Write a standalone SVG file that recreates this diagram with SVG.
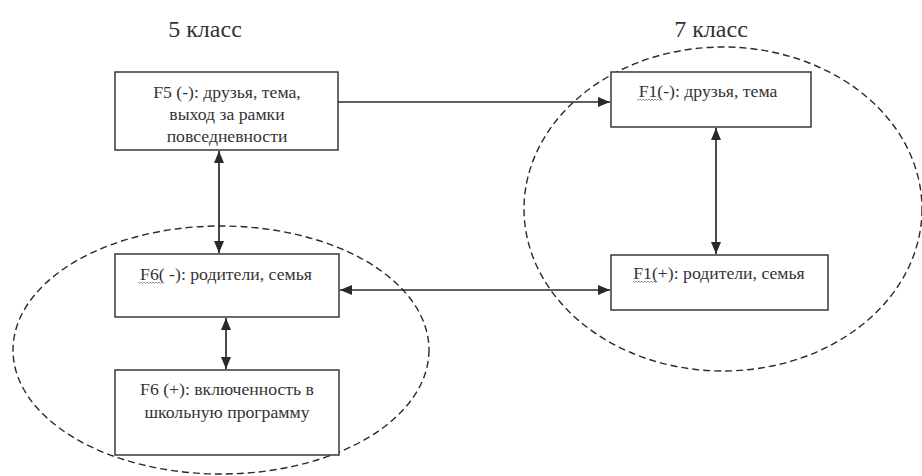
<svg xmlns="http://www.w3.org/2000/svg" width="922" height="476" viewBox="0 0 922 476">
<style>
text{font-family:"Liberation Serif","Times New Roman","DejaVu Serif",serif;fill:#333;text-anchor:middle}
.t{font-size:17.7px}
.h{font-size:24px}
.box{fill:#fff;stroke:#2a2a2a;stroke-width:1.4}
.ell{fill:none;stroke:#2a2a2a;stroke-width:1.4;stroke-dasharray:7 4}
.c{stroke:#2a2a2a;stroke-width:1.7;fill:none}
.sq{fill:none;stroke:#777;stroke-width:0.8}
</style>
<defs>
<marker id="ah" viewBox="0 0 12 10" refX="12" refY="5" markerWidth="12" markerHeight="10" markerUnits="userSpaceOnUse" orient="auto-start-reverse">
<path d="M0,0 L12,5 L0,10 Z" fill="#2a2a2a"/>
</marker>
<path id="wave" d="M0,0 l1.5,1.5 l1.5,-1.5 l1.5,1.5 l1.5,-1.5 l1.5,1.5 l1.5,-1.5 l1.5,1.5 l1.5,-1.5 l1.5,1.5 l1.5,-1.5 l1.5,1.5 l1.5,-1.5 l1.5,1.5 l1.5,-1.5 l1.5,1.5 l1.5,-1.5"/>
</defs>
<rect width="922" height="476" fill="#fff"/>
<text class="h" x="205" y="37">5 класс</text>
<text class="h" x="711" y="37">7 класс</text>
<g id="groups">
<ellipse class="ell" cx="221" cy="350" rx="208" ry="124"/>
<ellipse class="ell" cx="723" cy="209" rx="199" ry="162"/>
</g>
<g id="connectors">
<line class="c" x1="338" y1="102" x2="610" y2="102" marker-end="url(#ah)"/>
<line class="c" x1="716" y1="128" x2="716" y2="254" marker-start="url(#ah)" marker-end="url(#ah)"/>
<line class="c" x1="219" y1="151" x2="219" y2="253" marker-start="url(#ah)" marker-end="url(#ah)"/>
<line class="c" x1="340" y1="290" x2="610" y2="290" marker-start="url(#ah)" marker-end="url(#ah)"/>
<line class="c" x1="226" y1="318" x2="226" y2="369" marker-start="url(#ah)" marker-end="url(#ah)"/>
</g>
<g id="f5">
<rect class="box" x="115" y="72" width="223" height="78"/>
<text class="t" x="227" y="98">F5 (-): друзья, тема,</text>
<text class="t" x="227" y="120">выход за рамки</text>
<text class="t" x="227" y="142">повседневности</text>
</g>
<g id="f1minus">
<rect class="box" x="611" y="72" width="200" height="55"/>
<text class="t" x="708" y="97">F1(-): друзья, тема</text>
<use href="#wave" class="sq" x="637" y="99"/>
</g>
<g id="f6minus">
<rect class="box" x="115" y="254" width="224" height="63"/>
<text class="t" x="226" y="280">F6( -): родители, семья</text>
<use href="#wave" class="sq" x="138" y="282"/>
</g>
<g id="f1plus">
<rect class="box" x="611" y="255" width="217" height="55"/>
<text class="t" x="719" y="279">F1(+): родители, семья</text>
<use href="#wave" class="sq" x="633" y="281"/>
</g>
<g id="f6plus">
<rect class="box" x="115" y="370" width="224" height="85"/>
<text class="t" x="227" y="395">F6 (+): включенность в</text>
<text class="t" x="227" y="418">школьную  программу</text>
</g>
</svg>
